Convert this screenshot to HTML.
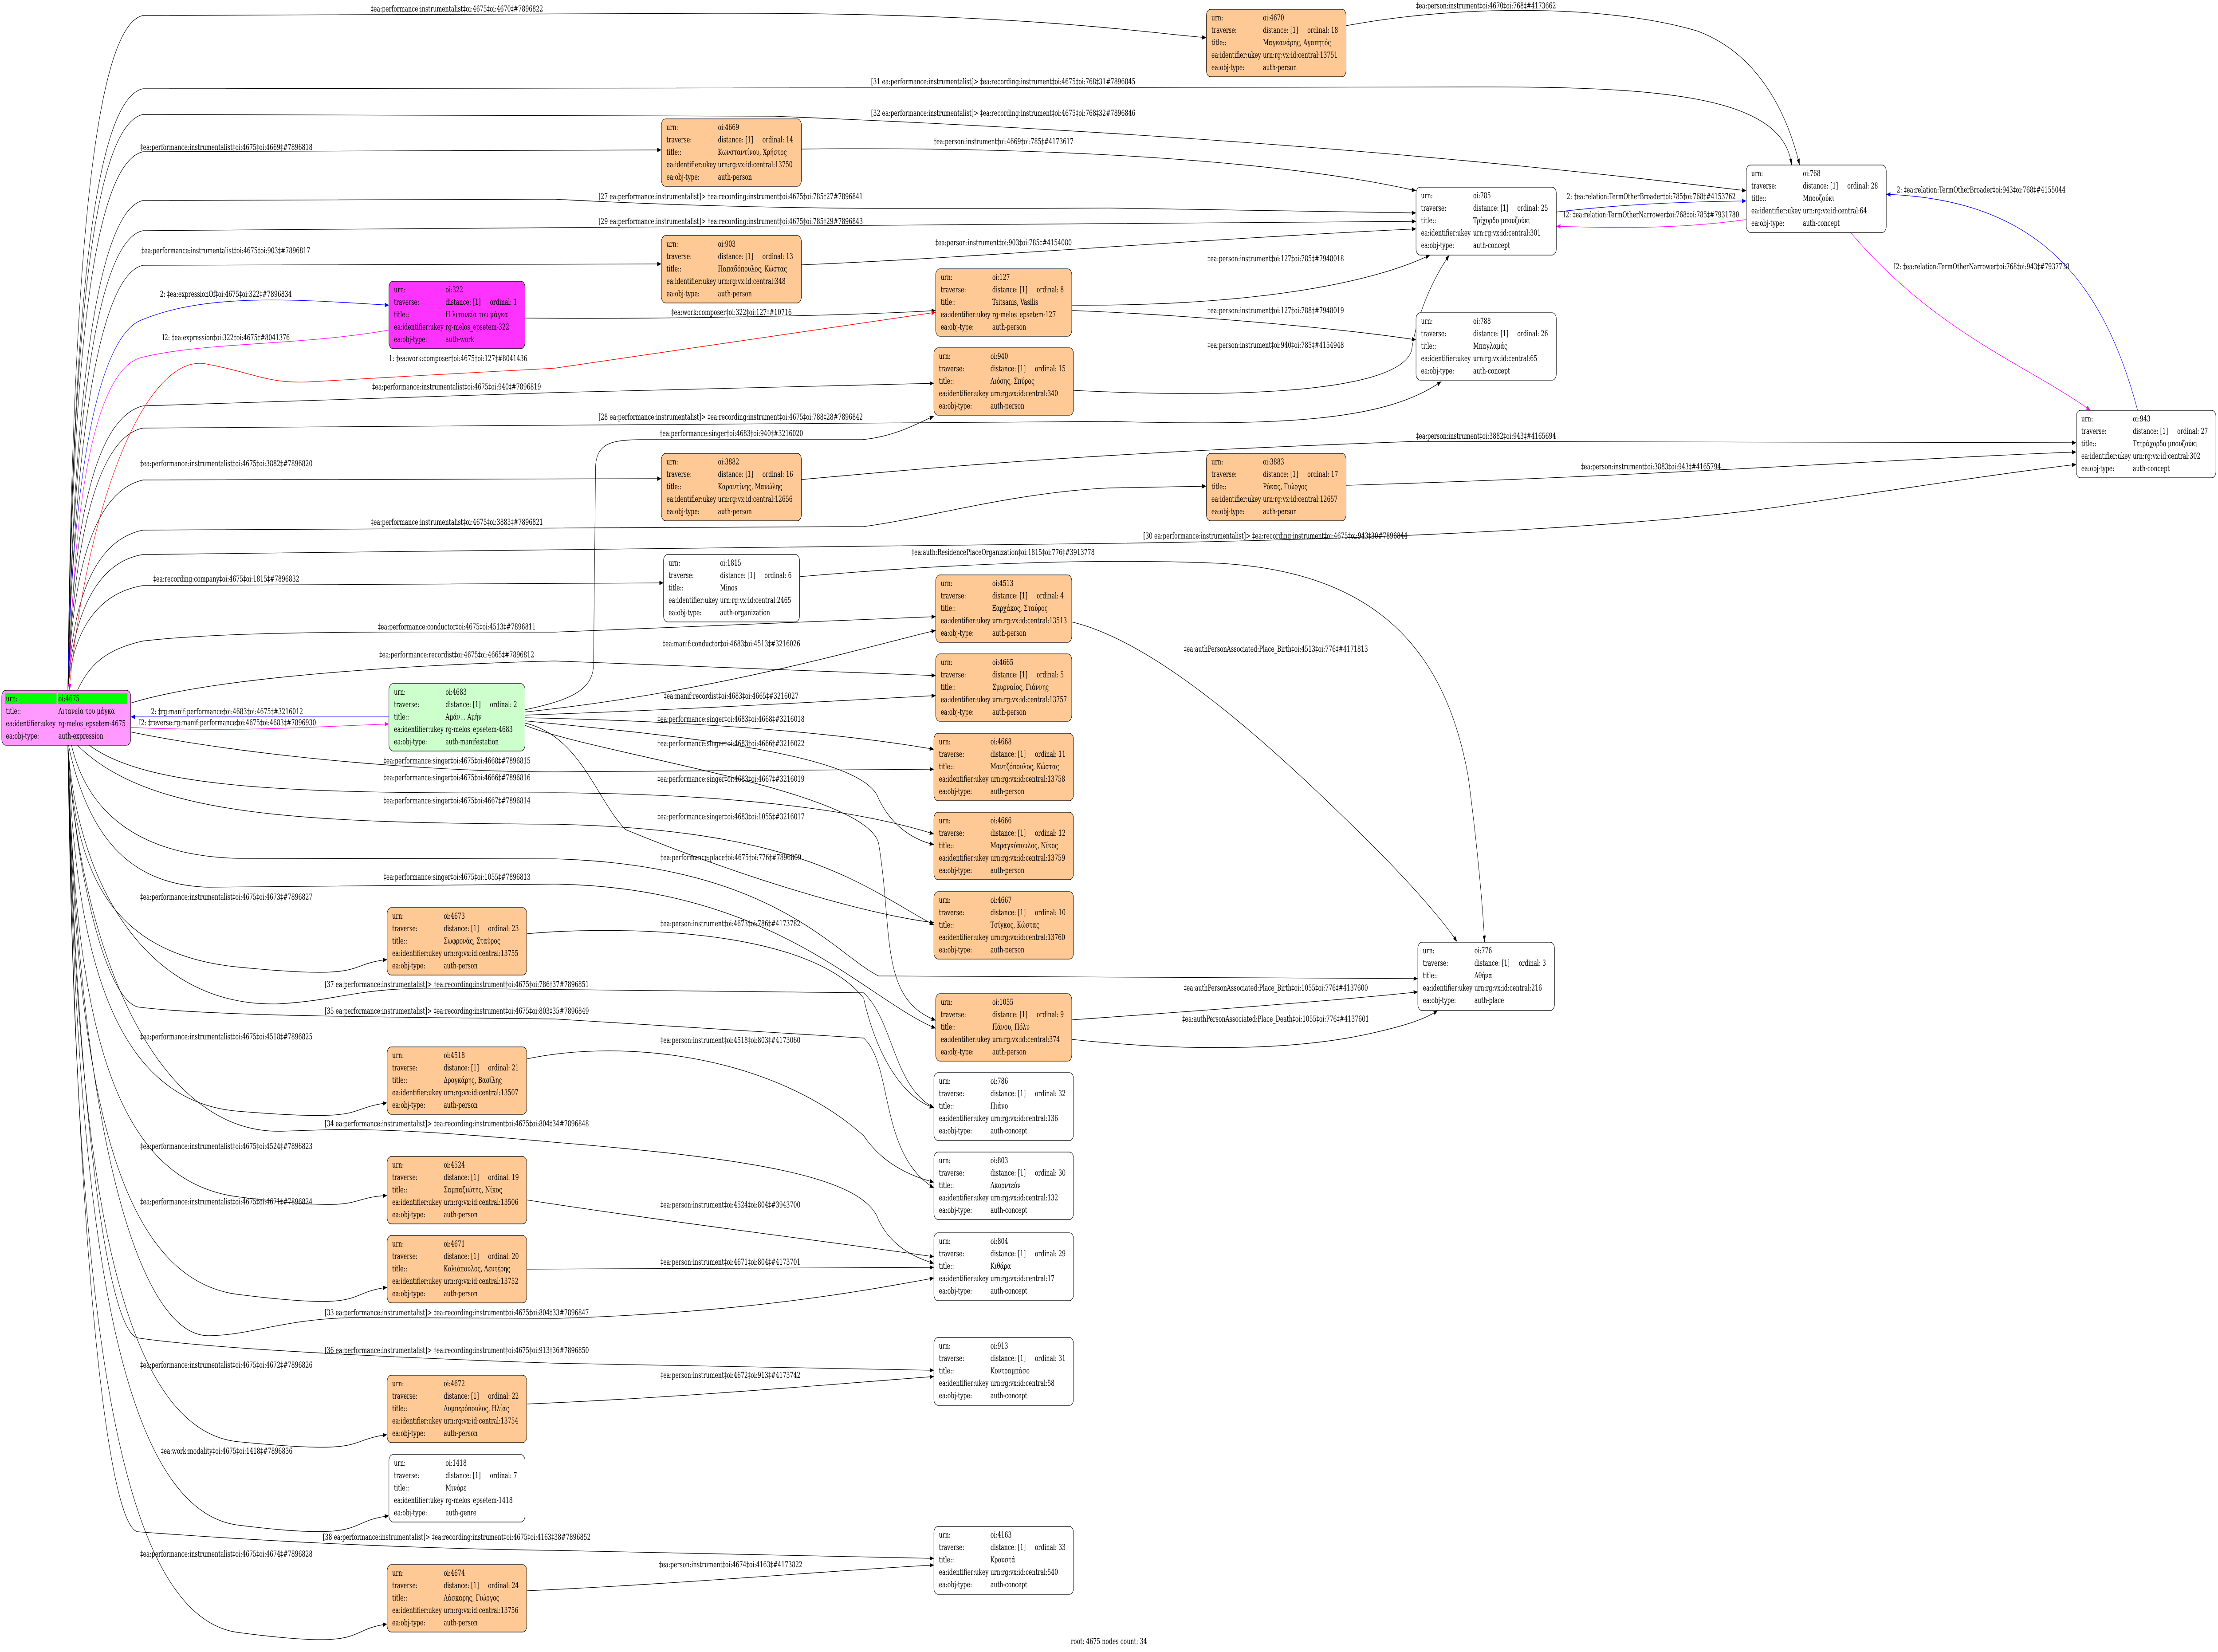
<!DOCTYPE html>
<html><head><meta charset="utf-8"><style>
html,body{margin:0;padding:0;background:#fff;width:100%;height:100%;overflow:hidden}
svg{display:block;width:100vw;height:100vh}
text{font-family:"DejaVu Serif","Liberation Serif","Noto Serif CJK SC",serif;font-size:18.67px;fill:#000}
.e{fill:none;stroke:#000;stroke-width:1.3}
.b{fill:none;stroke:#00f;stroke-width:1.3}
.m{fill:none;stroke:#f0f;stroke-width:1.3}
.r{fill:none;stroke:#f00;stroke-width:1.3}
.o{fill:#ffc995;stroke:#000;stroke-width:1.3}
.w{fill:#fff;stroke:#000;stroke-width:1.3}
.mg{fill:#ff33ff;stroke:#000;stroke-width:1.3}
.gr{fill:#ccffcc;stroke:#000;stroke-width:1.3}
.rt{fill:#ff99ff;stroke:#000;stroke-width:1.3}
</style></head><body>
<svg xmlns="http://www.w3.org/2000/svg" viewBox="0 0 7448 3724" preserveAspectRatio="none">
<defs>
<marker id="ak" markerUnits="userSpaceOnUse" markerWidth="14" markerHeight="10" refX="14" refY="5" orient="auto"><path d="M0,0 L14,5 L0,10z" fill="#000"/></marker>
<marker id="ab" markerUnits="userSpaceOnUse" markerWidth="14" markerHeight="10" refX="14" refY="5" orient="auto"><path d="M0,0 L14,5 L0,10z" fill="#00f"/></marker>
<marker id="am" markerUnits="userSpaceOnUse" markerWidth="14" markerHeight="10" refX="14" refY="5" orient="auto"><path d="M0,0 L14,5 L0,10z" fill="#f0f"/></marker>
<marker id="ar" markerUnits="userSpaceOnUse" markerWidth="14" markerHeight="10" refX="14" refY="5" orient="auto"><path d="M0,0 L14,5 L0,10z" fill="#f00"/></marker>
</defs>
<rect width="7448" height="3724" fill="#fff"/>

<g marker-end="url(#ak)">
<path class="e" d="M228,1556 C240,717 300,60 480,35 L2400,30 C3400,28 3800,70 4051,85"/>
<path class="e" d="M228,1556 C240,808 300,226 480,200 L5000,196 C5600,196 5990,220 6016,372"/>
<path class="e" d="M228,1556 C240,830 300,285 480,258 L2600,262 C4000,300 5000,360 5864,430"/>
<path class="e" d="M228,1556 C240,886 300,370 480,342 L2221,338"/>
<path class="e" d="M228,1556 C240,1050 300,480 480,452 L1862,449 C2600,476 3200,470 3724,469 L4755,480"/>
<path class="e" d="M228,1556 C240,1090 300,545 480,520 L4755,499"/>
<path class="e" d="M228,1556 C240,1170 300,625 480,598 L2221,595"/>
<path class="e" d="M228,1556 C240,1240 300,945 480,915 L1862,885 L3136,864"/>
<path class="e" d="M228,1556 C240,1300 300,990 480,965 L3724,950 C4300,960 4650,950 4840,860"/>
<path class="e" d="M228,1556 C240,1320 300,1110 480,1082 L2221,1079"/>
<path class="e" d="M228,1556 C240,1380 300,1220 480,1195 L2900,1187 C3100,1170 3400,1110 3724,1100 L4051,1096"/>
<path class="e" d="M228,1556 C240,1420 300,1270 480,1250 L3724,1225 C4800,1215 5600,1180 6000,1140 C6500,1090 6800,1060 6972,1047"/>
<path class="e" d="M228,1556 C240,1450 300,1340 480,1320 L2228,1314"/>
<path class="e" d="M260,1556 C300,1500 350,1465 480,1445 C800,1420 1400,1425 1862,1425 L3142,1390"/>
<path class="e" d="M439,1585 C700,1530 1300,1500 1862,1490 L3142,1523"/>
<path class="e" d="M439,1650 C800,1700 1400,1740 1862,1740 L3136,1734"/>
<path class="e" d="M300,1680 C500,1780 1000,1790 1862,1787 C2500,1790 2900,1830 3136,1880"/>
<path class="e" d="M260,1680 C500,1840 1000,1855 1862,1858 C2700,1870 2900,2000 3136,2085"/>
<path class="e" d="M230,1680 C300,1900 450,1995 700,2000 L1862,1993 C2600,2000 2900,2250 3142,2318"/>
<path class="e" d="M240,1680 C300,1850 500,1930 800,1935 L1862,1936 C2600,1950 2800,2150 2950,2200 L4761,2206"/>
<path class="e" d="M228,1680 C250,1950 350,2150 800,2180 S1150,2175 1300,2163"/>
<path class="e" d="M228,1680 C260,2000 500,2270 932,2263 C1150,2255 1200,2224 1500,2228 L2900,2238 C3000,2300 3000,2450 3136,2497"/>
<path class="e" d="M228,1680 C250,1950 350,2250 463,2270 C700,2290 1200,2292 1862,2297 L2900,2340 C3000,2400 2950,2600 3136,2678"/>
<path class="e" d="M228,1680 C250,2100 350,2480 800,2505 S1150,2500 1300,2486"/>
<path class="e" d="M228,1680 C260,2100 500,2560 950,2550 C1150,2545 1300,2540 1862,2575 C2500,2610 2900,2650 2950,2750 C3000,2820 3100,2840 3136,2848"/>
<path class="e" d="M228,1680 C250,2250 350,2660 800,2698 S1150,2700 1300,2695"/>
<path class="e" d="M228,1680 C250,2350 350,2880 800,2918 S1150,2915 1300,2902"/>
<path class="e" d="M228,1680 C260,2500 450,3010 700,3011 C850,3010 950,2972 1200,2970 L1862,2972 C2500,2960 2900,2910 3136,2881"/>
<path class="e" d="M228,1680 C250,2400 350,3000 463,3016 C700,3040 1300,3060 1862,3073 L3136,3089"/>
<path class="e" d="M228,1680 C250,2500 350,3220 800,3250 S1150,3248 1300,3234"/>
<path class="e" d="M228,1680 C250,2600 350,3400 800,3438 S1150,3430 1306,3417"/>
<path class="e" d="M228,1680 C250,2700 350,3440 463,3453 C800,3470 1300,3490 1862,3495 L3136,3513"/>
<path class="e" d="M228,1680 C250,2800 350,3640 800,3680 S1150,3675 1300,3661"/>
<path class="e" d="M1763,1600 C1900,1580 1990,1560 1993,1500 L2000,1050 C2005,1000 2050,992 2150,991 L2895,991 C3000,985 3080,955 3136,938"/>
<path class="e" d="M1763,1605 C2400,1560 2900,1460 3142,1421"/>
<path class="e" d="M1763,1612 C2300,1600 2800,1580 3142,1568"/>
<path class="e" d="M1763,1618 C2300,1625 2800,1650 3136,1689"/>
<path class="e" d="M1763,1625 C2300,1660 2900,1700 2950,1800 C3000,1870 3080,1895 3136,1904"/>
<path class="e" d="M1763,1630 C1950,1660 2000,1800 2100,1870 C2500,1980 2900,2060 3136,2080"/>
<path class="e" d="M1763,1635 C2000,1700 2900,1780 2950,1900 C3000,2100 2950,2250 3142,2300"/>
<path class="e" d="M4520,58 C4900,10 5400,10 5700,70 C5900,120 6000,250 6043,372"/>
<path class="e" d="M2691,336 C3500,330 4300,360 4755,430"/>
<path class="e" d="M2691,597 C3300,580 4000,540 4755,516"/>
<path class="e" d="M1763,717 C2300,720 2900,710 3142,700"/>
<path class="e" d="M3599,688 C4200,690 4600,640 4802,575"/>
<path class="e" d="M3599,700 C4000,710 4500,740 4755,766"/>
<path class="e" d="M3605,880 C4200,900 4700,880 4740,790 C4760,700 4820,620 4867,575"/>
<path class="e" d="M2691,1081 C3200,1050 3700,1020 4755,995 L6972,998"/>
<path class="e" d="M4520,1094 C5500,1075 6500,1030 6972,1019"/>
<path class="e" d="M3599,1402 C3900,1450 4300,1700 4600,1900 C4750,2000 4850,2080 4893,2123"/>
<path class="e" d="M2685,1300 C3200,1270 3700,1258 4100,1270 C4600,1290 4850,1450 4930,1750 C4960,1900 4980,2050 4985,2123"/>
<path class="e" d="M1769,2105 C2000,2090 2700,2080 2900,2250 C2950,2400 3050,2480 3136,2497"/>
<path class="e" d="M1769,2387 C2100,2340 2600,2380 2900,2560 C2960,2620 3050,2650 3136,2665"/>
<path class="e" d="M1769,2705 C2300,2760 2800,2800 3136,2833"/>
<path class="e" d="M1769,2861 L3136,2857"/>
<path class="e" d="M1769,3165 C2300,3150 2800,3120 3136,3103"/>
<path class="e" d="M1769,3586 C2300,3570 2800,3540 3136,3528"/>
<path class="e" d="M3599,2299 C4000,2280 4500,2255 4761,2236"/>
<path class="e" d="M3599,2343 C3900,2365 4300,2375 4600,2330 C4700,2315 4780,2300 4828,2278"/>
</g>
<path class="b" marker-end="url(#ab)" d="M228,1556 C235,1200 300,760 480,720 C700,660 1000,675 1306,688"/>
<path class="m" marker-end="url(#am)" d="M1306,744 C1000,780 700,770 480,805 C300,830 240,1200 234,1556"/>
<path class="r" marker-end="url(#ar)" d="M232,1556 C300,1100 500,800 689,820 C850,840 900,865 1033,861 C1300,850 1600,840 1862,830 L3142,704"/>
<path class="b" marker-end="url(#ab)" d="M1306,1616 L439,1616"/>
<path class="m" marker-end="url(#am)" d="M439,1640 C800,1650 1000,1640 1306,1632"/>
<path class="b" marker-end="url(#ab)" d="M5226,478 C5450,460 5650,455 5864,453"/>
<path class="m" marker-end="url(#am)" d="M5864,495 C5650,515 5450,515 5226,510"/>
<path class="b" marker-end="url(#ab)" d="M7178,925 C7050,600 6800,450 6334,438"/>
<path class="m" marker-end="url(#am)" d="M6214,524 C6500,750 6800,820 7020,925"/>

<g>
<text x="1245" y="26">‡ea:performance:instrumentalist‡oi:4675‡oi:4670‡#7896822</text>
<text x="2925" y="190">[31 ea:performance:instrumentalist]&gt; ‡ea:recording:instrument‡oi:4675‡oi:768‡31#7896845</text>
<text x="2925" y="261">[32 ea:performance:instrumentalist]&gt; ‡ea:recording:instrument‡oi:4675‡oi:768‡32#7896846</text>
<text x="471" y="338">‡ea:performance:instrumentalist‡oi:4675‡oi:4669‡#7896818</text>
<text x="3135" y="325">‡ea:person:instrument‡oi:4669‡oi:785‡#4173617</text>
<text x="2010" y="449">[27 ea:performance:instrumentalist]&gt; ‡ea:recording:instrument‡oi:4675‡oi:785‡27#7896841</text>
<text x="2010" y="505">[29 ea:performance:instrumentalist]&gt; ‡ea:recording:instrument‡oi:4675‡oi:785‡29#7896843</text>
<text x="475" y="571">‡ea:performance:instrumentalist‡oi:4675‡oi:903‡#7896817</text>
<text x="3141" y="553">‡ea:person:instrument‡oi:903‡oi:785‡#4154080</text>
<text x="537" y="669">2: ‡ea:expressionOf‡oi:4675‡oi:322‡#7896834</text>
<text x="545" y="767">I2: ‡ea:expression‡oi:322‡oi:4675‡#8041376</text>
<text x="1306" y="814">1: ‡ea:work:composer‡oi:4675‡oi:127‡#8041436</text>
<text x="2254" y="710">‡ea:work:composer‡oi:322‡oi:127‡#10716</text>
<text x="1250" y="878">‡ea:performance:instrumentalist‡oi:4675‡oi:940‡#7896819</text>
<text x="2010" y="946">[28 ea:performance:instrumentalist]&gt; ‡ea:recording:instrument‡oi:4675‡oi:788‡28#7896842</text>
<text x="2215" y="983">‡ea:performance:singer‡oi:4683‡oi:940‡#3216020</text>
<text x="471" y="1051">‡ea:performance:instrumentalist‡oi:4675‡oi:3882‡#7896820</text>
<text x="1245" y="1183">‡ea:performance:instrumentalist‡oi:4675‡oi:3883‡#7896821</text>
<text x="3839" y="1214">[30 ea:performance:instrumentalist]&gt; ‡ea:recording:instrument‡oi:4675‡oi:943‡30#7896844</text>
<text x="515" y="1311">‡ea:recording:company‡oi:4675‡oi:1815‡#7896832</text>
<text x="3061" y="1251">‡ea:auth:ResidencePlaceOrganization‡oi:1815‡oi:776‡#3913778</text>
<text x="1269" y="1419">‡ea:performance:conductor‡oi:4675‡oi:4513‡#7896811</text>
<text x="1274" y="1482">‡ea:performance:recordist‡oi:4675‡oi:4665‡#7896812</text>
<text x="2225" y="1457">‡ea:manif:conductor‡oi:4683‡oi:4513‡#3216026</text>
<text x="2229" y="1575">‡ea:manif:recordist‡oi:4683‡oi:4665‡#3216027</text>
<text x="507" y="1610">2: ‡rg:manif:performance‡oi:4683‡oi:4675‡#3216012</text>
<text x="466" y="1635">I2: ‡reverse:rg:manif:performance‡oi:4675‡oi:4683‡#7896930</text>
<text x="2208" y="1627">‡ea:performance:singer‡oi:4683‡oi:4668‡#3216018</text>
<text x="2208" y="1682">‡ea:performance:singer‡oi:4683‡oi:4666‡#3216022</text>
<text x="2208" y="1762">‡ea:performance:singer‡oi:4683‡oi:4667‡#3216019</text>
<text x="2208" y="1847">‡ea:performance:singer‡oi:4683‡oi:1055‡#3216017</text>
<text x="1288" y="1721">‡ea:performance:singer‡oi:4675‡oi:4668‡#7896815</text>
<text x="1288" y="1759">‡ea:performance:singer‡oi:4675‡oi:4666‡#7896816</text>
<text x="1288" y="1811">‡ea:performance:singer‡oi:4675‡oi:4667‡#7896814</text>
<text x="1288" y="1983">‡ea:performance:singer‡oi:4675‡oi:1055‡#7896813</text>
<text x="2218" y="1939">‡ea:performance:place‡oi:4675‡oi:776‡#7896809</text>
<text x="471" y="2028">‡ea:performance:instrumentalist‡oi:4675‡oi:4673‡#7896827</text>
<text x="2218" y="2088">‡ea:person:instrument‡oi:4673‡oi:786‡#4173782</text>
<text x="1090" y="2225">[37 ea:performance:instrumentalist]&gt; ‡ea:recording:instrument‡oi:4675‡oi:786‡37#7896851</text>
<text x="3975" y="2233">‡ea:authPersonAssociated:Place_Birth‡oi:1055‡oi:776‡#4137600</text>
<text x="1090" y="2285">[35 ea:performance:instrumentalist]&gt; ‡ea:recording:instrument‡oi:4675‡oi:803‡35#7896849</text>
<text x="3970" y="2303">‡ea:authPersonAssociated:Place_Death‡oi:1055‡oi:776‡#4137601</text>
<text x="471" y="2343">‡ea:performance:instrumentalist‡oi:4675‡oi:4518‡#7896825</text>
<text x="2218" y="2351">‡ea:person:instrument‡oi:4518‡oi:803‡#4173060</text>
<text x="1090" y="2539">[34 ea:performance:instrumentalist]&gt; ‡ea:recording:instrument‡oi:4675‡oi:804‡34#7896848</text>
<text x="471" y="2590">‡ea:performance:instrumentalist‡oi:4675‡oi:4524‡#7896823</text>
<text x="2218" y="2722">‡ea:person:instrument‡oi:4524‡oi:804‡#3943700</text>
<text x="471" y="2715">‡ea:performance:instrumentalist‡oi:4675‡oi:4671‡#7896824</text>
<text x="2218" y="2851">‡ea:person:instrument‡oi:4671‡oi:804‡#4173701</text>
<text x="1090" y="2965">[33 ea:performance:instrumentalist]&gt; ‡ea:recording:instrument‡oi:4675‡oi:804‡33#7896847</text>
<text x="1090" y="3050">[36 ea:performance:instrumentalist]&gt; ‡ea:recording:instrument‡oi:4675‡oi:913‡36#7896850</text>
<text x="471" y="3083">‡ea:performance:instrumentalist‡oi:4675‡oi:4672‡#7896826</text>
<text x="2218" y="3106">‡ea:person:instrument‡oi:4672‡oi:913‡#4173742</text>
<text x="540" y="3277">‡ea:work:modality‡oi:4675‡oi:1418‡#7896836</text>
<text x="1084" y="3471">[38 ea:performance:instrumentalist]&gt; ‡ea:recording:instrument‡oi:4675‡oi:4163‡38#7896852</text>
<text x="471" y="3509">‡ea:performance:instrumentalist‡oi:4675‡oi:4674‡#7896828</text>
<text x="2213" y="3533">‡ea:person:instrument‡oi:4674‡oi:4163‡#4173822</text>
<text x="4755" y="19">‡ea:person:instrument‡oi:4670‡oi:768‡#4173662</text>
<text x="4055" y="589">‡ea:person:instrument‡oi:127‡oi:785‡#7948018</text>
<text x="4055" y="706">‡ea:person:instrument‡oi:127‡oi:788‡#7948019</text>
<text x="4055" y="784">‡ea:person:instrument‡oi:940‡oi:785‡#4154948</text>
<text x="4755" y="989">‡ea:person:instrument‡oi:3882‡oi:943‡#4165694</text>
<text x="5309" y="1058">‡ea:person:instrument‡oi:3883‡oi:943‡#4165794</text>
<text x="3975" y="1469">‡ea:authPersonAssociated:Place_Birth‡oi:4513‡oi:776‡#4171813</text>
<text x="5261" y="449">2: ‡ea:relation:TermOtherBroader‡oi:785‡oi:768‡#4153762</text>
<text x="5250" y="490">I2: ‡ea:relation:TermOtherNarrower‡oi:768‡oi:785‡#7931780</text>
<text x="6369" y="434">2: ‡ea:relation:TermOtherBroader‡oi:943‡oi:768‡#4155044</text>
<text x="6359" y="607">I2: ‡ea:relation:TermOtherNarrower‡oi:768‡oi:943‡#7937738</text>
<text x="3596" y="3706">root: 4675 nodes count: 34</text>
</g>

<g transform="translate(6,1556)">
<rect class="rt" width="433" height="124" rx="14"/>
<rect x="12" y="7" width="172" height="24" fill="#00ff00"/>
<rect x="188" y="7" width="234" height="24" fill="#00ff00"/>
<text x="14" y="25">urn:</text><text x="190" y="25">oi:4675</text>
<text x="14" y="53">title::</text><text x="190" y="53">Λιτανεία του μάγκα</text>
<text x="14" y="81">ea:identifier:ukey</text><text x="190" y="81">rg-melos_epsetem-4675</text>
<text x="14" y="109">ea:obj-type:</text><text x="190" y="109">auth-expression</text>
</g>

<g transform="translate(1306,634)">
<rect class="mg" width="457" height="152" rx="14"/>
<text x="17" y="25">urn:</text><text x="190" y="25">oi:322</text>
<text x="17" y="53">traverse:</text><text x="190" y="53">distance: [1]</text><text x="339" y="53">ordinal: 1</text>
<text x="17" y="81">title::</text><text x="190" y="81">Η λιτανεία του μάγκα</text>
<text x="17" y="109">ea:identifier:ukey</text><text x="190" y="109">rg-melos_epsetem-322</text>
<text x="17" y="137">ea:obj-type:</text><text x="190" y="137">auth-work</text>
</g>

<g transform="translate(1306,1541)">
<rect class="gr" width="457" height="152" rx="14"/>
<text x="17" y="25">urn:</text><text x="190" y="25">oi:4683</text>
<text x="17" y="53">traverse:</text><text x="190" y="53">distance: [1]</text><text x="339" y="53">ordinal: 2</text>
<text x="17" y="81">title::</text><text x="190" y="81">Αμάν... Αμήν</text>
<text x="17" y="109">ea:identifier:ukey</text><text x="190" y="109">rg-melos_epsetem-4683</text>
<text x="17" y="137">ea:obj-type:</text><text x="190" y="137">auth-manifestation</text>
</g>

<g transform="translate(4051,21)"><rect class="o" width="469" height="152" rx="14"/>
<text x="17" y="25">urn:</text><text x="190" y="25">oi:4670</text>
<text x="17" y="53">traverse:</text><text x="190" y="53">distance: [1]</text><text x="339" y="53">ordinal: 18</text>
<text x="17" y="81">title::</text><text x="190" y="81">Μαγκανάρης, Αγαπητός</text>
<text x="17" y="109">ea:identifier:ukey</text><text x="190" y="109">urn:rg:vx:id:central:13751</text>
<text x="17" y="137">ea:obj-type:</text><text x="190" y="137">auth-person</text></g>

<g transform="translate(2221,268)"><rect class="o" width="470" height="152" rx="14"/>
<text x="17" y="25">urn:</text><text x="190" y="25">oi:4669</text>
<text x="17" y="53">traverse:</text><text x="190" y="53">distance: [1]</text><text x="339" y="53">ordinal: 14</text>
<text x="17" y="81">title::</text><text x="190" y="81">Κωνσταντίνου, Χρήστος</text>
<text x="17" y="109">ea:identifier:ukey</text><text x="190" y="109">urn:rg:vx:id:central:13750</text>
<text x="17" y="137">ea:obj-type:</text><text x="190" y="137">auth-person</text></g>

<g transform="translate(2221,531)"><rect class="o" width="470" height="152" rx="14"/>
<text x="17" y="25">urn:</text><text x="190" y="25">oi:903</text>
<text x="17" y="53">traverse:</text><text x="190" y="53">distance: [1]</text><text x="339" y="53">ordinal: 13</text>
<text x="17" y="81">title::</text><text x="190" y="81">Παπαδόπουλος, Κώστας</text>
<text x="17" y="109">ea:identifier:ukey</text><text x="190" y="109">urn:rg:vx:id:central:348</text>
<text x="17" y="137">ea:obj-type:</text><text x="190" y="137">auth-person</text></g>

<g transform="translate(3142,606)"><rect class="o" width="457" height="152" rx="14"/>
<text x="17" y="25">urn:</text><text x="190" y="25">oi:127</text>
<text x="17" y="53">traverse:</text><text x="190" y="53">distance: [1]</text><text x="339" y="53">ordinal: 8</text>
<text x="17" y="81">title::</text><text x="190" y="81">Tsitsanis, Vasilis</text>
<text x="17" y="109">ea:identifier:ukey</text><text x="190" y="109">rg-melos_epsetem-127</text>
<text x="17" y="137">ea:obj-type:</text><text x="190" y="137">auth-person</text></g>

<g transform="translate(3136,784)"><rect class="o" width="469" height="152" rx="14"/>
<text x="17" y="25">urn:</text><text x="190" y="25">oi:940</text>
<text x="17" y="53">traverse:</text><text x="190" y="53">distance: [1]</text><text x="339" y="53">ordinal: 15</text>
<text x="17" y="81">title::</text><text x="190" y="81">Λιόσης, Σπύρος</text>
<text x="17" y="109">ea:identifier:ukey</text><text x="190" y="109">urn:rg:vx:id:central:340</text>
<text x="17" y="137">ea:obj-type:</text><text x="190" y="137">auth-person</text></g>

<g transform="translate(2221,1022)"><rect class="o" width="470" height="152" rx="14"/>
<text x="17" y="25">urn:</text><text x="190" y="25">oi:3882</text>
<text x="17" y="53">traverse:</text><text x="190" y="53">distance: [1]</text><text x="339" y="53">ordinal: 16</text>
<text x="17" y="81">title::</text><text x="190" y="81">Καραντίνης, Μανώλης</text>
<text x="17" y="109">ea:identifier:ukey</text><text x="190" y="109">urn:rg:vx:id:central:12656</text>
<text x="17" y="137">ea:obj-type:</text><text x="190" y="137">auth-person</text></g>

<g transform="translate(4051,1022)"><rect class="o" width="469" height="152" rx="14"/>
<text x="17" y="25">urn:</text><text x="190" y="25">oi:3883</text>
<text x="17" y="53">traverse:</text><text x="190" y="53">distance: [1]</text><text x="339" y="53">ordinal: 17</text>
<text x="17" y="81">title::</text><text x="190" y="81">Ρόκας, Γιώργος</text>
<text x="17" y="109">ea:identifier:ukey</text><text x="190" y="109">urn:rg:vx:id:central:12657</text>
<text x="17" y="137">ea:obj-type:</text><text x="190" y="137">auth-person</text></g>

<g transform="translate(3142,1296)"><rect class="o" width="457" height="152" rx="14"/>
<text x="17" y="25">urn:</text><text x="190" y="25">oi:4513</text>
<text x="17" y="53">traverse:</text><text x="190" y="53">distance: [1]</text><text x="339" y="53">ordinal: 4</text>
<text x="17" y="81">title::</text><text x="190" y="81">Ξαρχάκος, Σταύρος</text>
<text x="17" y="109">ea:identifier:ukey</text><text x="190" y="109">urn:rg:vx:id:central:13513</text>
<text x="17" y="137">ea:obj-type:</text><text x="190" y="137">auth-person</text></g>

<g transform="translate(3142,1474)"><rect class="o" width="457" height="152" rx="14"/>
<text x="17" y="25">urn:</text><text x="190" y="25">oi:4665</text>
<text x="17" y="53">traverse:</text><text x="190" y="53">distance: [1]</text><text x="339" y="53">ordinal: 5</text>
<text x="17" y="81">title::</text><text x="190" y="81">Σμυρναίος, Γιάννης</text>
<text x="17" y="109">ea:identifier:ukey</text><text x="190" y="109">urn:rg:vx:id:central:13757</text>
<text x="17" y="137">ea:obj-type:</text><text x="190" y="137">auth-person</text></g>

<g transform="translate(3136,1653)"><rect class="o" width="469" height="152" rx="14"/>
<text x="17" y="25">urn:</text><text x="190" y="25">oi:4668</text>
<text x="17" y="53">traverse:</text><text x="190" y="53">distance: [1]</text><text x="339" y="53">ordinal: 11</text>
<text x="17" y="81">title::</text><text x="190" y="81">Μαντζόπουλος, Κώστας</text>
<text x="17" y="109">ea:identifier:ukey</text><text x="190" y="109">urn:rg:vx:id:central:13758</text>
<text x="17" y="137">ea:obj-type:</text><text x="190" y="137">auth-person</text></g>

<g transform="translate(3136,1831)"><rect class="o" width="469" height="152" rx="14"/>
<text x="17" y="25">urn:</text><text x="190" y="25">oi:4666</text>
<text x="17" y="53">traverse:</text><text x="190" y="53">distance: [1]</text><text x="339" y="53">ordinal: 12</text>
<text x="17" y="81">title::</text><text x="190" y="81">Μαραγκόπουλος, Νίκος</text>
<text x="17" y="109">ea:identifier:ukey</text><text x="190" y="109">urn:rg:vx:id:central:13759</text>
<text x="17" y="137">ea:obj-type:</text><text x="190" y="137">auth-person</text></g>

<g transform="translate(3136,2010)"><rect class="o" width="469" height="152" rx="14"/>
<text x="17" y="25">urn:</text><text x="190" y="25">oi:4667</text>
<text x="17" y="53">traverse:</text><text x="190" y="53">distance: [1]</text><text x="339" y="53">ordinal: 10</text>
<text x="17" y="81">title::</text><text x="190" y="81">Τσίγκος, Κώστας</text>
<text x="17" y="109">ea:identifier:ukey</text><text x="190" y="109">urn:rg:vx:id:central:13760</text>
<text x="17" y="137">ea:obj-type:</text><text x="190" y="137">auth-person</text></g>

<g transform="translate(3142,2240)"><rect class="o" width="457" height="152" rx="14"/>
<text x="17" y="25">urn:</text><text x="190" y="25">oi:1055</text>
<text x="17" y="53">traverse:</text><text x="190" y="53">distance: [1]</text><text x="339" y="53">ordinal: 9</text>
<text x="17" y="81">title::</text><text x="190" y="81">Πάνου, Πόλυ</text>
<text x="17" y="109">ea:identifier:ukey</text><text x="190" y="109">urn:rg:vx:id:central:374</text>
<text x="17" y="137">ea:obj-type:</text><text x="190" y="137">auth-person</text></g>

<g transform="translate(1300,2046)"><rect class="o" width="469" height="152" rx="14"/>
<text x="17" y="25">urn:</text><text x="190" y="25">oi:4673</text>
<text x="17" y="53">traverse:</text><text x="190" y="53">distance: [1]</text><text x="339" y="53">ordinal: 23</text>
<text x="17" y="81">title::</text><text x="190" y="81">Σωφρονάς, Σταύρος</text>
<text x="17" y="109">ea:identifier:ukey</text><text x="190" y="109">urn:rg:vx:id:central:13755</text>
<text x="17" y="137">ea:obj-type:</text><text x="190" y="137">auth-person</text></g>

<g transform="translate(1300,2360)"><rect class="o" width="469" height="152" rx="14"/>
<text x="17" y="25">urn:</text><text x="190" y="25">oi:4518</text>
<text x="17" y="53">traverse:</text><text x="190" y="53">distance: [1]</text><text x="339" y="53">ordinal: 21</text>
<text x="17" y="81">title::</text><text x="190" y="81">Δρογκάρης, Βασίλης</text>
<text x="17" y="109">ea:identifier:ukey</text><text x="190" y="109">urn:rg:vx:id:central:13507</text>
<text x="17" y="137">ea:obj-type:</text><text x="190" y="137">auth-person</text></g>

<g transform="translate(1300,2607)"><rect class="o" width="469" height="152" rx="14"/>
<text x="17" y="25">urn:</text><text x="190" y="25">oi:4524</text>
<text x="17" y="53">traverse:</text><text x="190" y="53">distance: [1]</text><text x="339" y="53">ordinal: 19</text>
<text x="17" y="81">title::</text><text x="190" y="81">Σαμπαζιώτης, Νίκος</text>
<text x="17" y="109">ea:identifier:ukey</text><text x="190" y="109">urn:rg:vx:id:central:13506</text>
<text x="17" y="137">ea:obj-type:</text><text x="190" y="137">auth-person</text></g>

<g transform="translate(1300,2785)"><rect class="o" width="469" height="152" rx="14"/>
<text x="17" y="25">urn:</text><text x="190" y="25">oi:4671</text>
<text x="17" y="53">traverse:</text><text x="190" y="53">distance: [1]</text><text x="339" y="53">ordinal: 20</text>
<text x="17" y="81">title::</text><text x="190" y="81">Κολιόπουλος, Λευτέρης</text>
<text x="17" y="109">ea:identifier:ukey</text><text x="190" y="109">urn:rg:vx:id:central:13752</text>
<text x="17" y="137">ea:obj-type:</text><text x="190" y="137">auth-person</text></g>

<g transform="translate(1300,3100)"><rect class="o" width="469" height="152" rx="14"/>
<text x="17" y="25">urn:</text><text x="190" y="25">oi:4672</text>
<text x="17" y="53">traverse:</text><text x="190" y="53">distance: [1]</text><text x="339" y="53">ordinal: 22</text>
<text x="17" y="81">title::</text><text x="190" y="81">Λυμπερόπουλος, Ηλίας</text>
<text x="17" y="109">ea:identifier:ukey</text><text x="190" y="109">urn:rg:vx:id:central:13754</text>
<text x="17" y="137">ea:obj-type:</text><text x="190" y="137">auth-person</text></g>

<g transform="translate(1300,3527)"><rect class="o" width="469" height="152" rx="14"/>
<text x="17" y="25">urn:</text><text x="190" y="25">oi:4674</text>
<text x="17" y="53">traverse:</text><text x="190" y="53">distance: [1]</text><text x="339" y="53">ordinal: 24</text>
<text x="17" y="81">title::</text><text x="190" y="81">Λάσκαρης, Γιώργος</text>
<text x="17" y="109">ea:identifier:ukey</text><text x="190" y="109">urn:rg:vx:id:central:13756</text>
<text x="17" y="137">ea:obj-type:</text><text x="190" y="137">auth-person</text></g>

<g transform="translate(4755,422)"><rect class="w" width="471" height="153" rx="14"/>
<text x="17" y="25">urn:</text><text x="192" y="25">oi:785</text>
<text x="17" y="53">traverse:</text><text x="192" y="53">distance: [1]</text><text x="340" y="53">ordinal: 25</text>
<text x="17" y="81">title::</text><text x="192" y="81">Τρίχορδο μπουζούκι</text>
<text x="17" y="109">ea:identifier:ukey</text><text x="192" y="109">urn:rg:vx:id:central:301</text>
<text x="17" y="137">ea:obj-type:</text><text x="192" y="137">auth-concept</text></g>

<g transform="translate(4755,705)"><rect class="w" width="471" height="152" rx="14"/>
<text x="17" y="25">urn:</text><text x="192" y="25">oi:788</text>
<text x="17" y="53">traverse:</text><text x="192" y="53">distance: [1]</text><text x="340" y="53">ordinal: 26</text>
<text x="17" y="81">title::</text><text x="192" y="81">Μπαγλαμάς</text>
<text x="17" y="109">ea:identifier:ukey</text><text x="192" y="109">urn:rg:vx:id:central:65</text>
<text x="17" y="137">ea:obj-type:</text><text x="192" y="137">auth-concept</text></g>

<g transform="translate(5864,372)"><rect class="w" width="470" height="152" rx="14"/>
<text x="17" y="25">urn:</text><text x="190" y="25">oi:768</text>
<text x="17" y="53">traverse:</text><text x="190" y="53">distance: [1]</text><text x="339" y="53">ordinal: 28</text>
<text x="17" y="81">title::</text><text x="190" y="81">Μπουζούκι</text>
<text x="17" y="109">ea:identifier:ukey</text><text x="190" y="109">urn:rg:vx:id:central:64</text>
<text x="17" y="137">ea:obj-type:</text><text x="190" y="137">auth-concept</text></g>

<g transform="translate(6972,925)"><rect class="w" width="469" height="152" rx="14"/>
<text x="17" y="25">urn:</text><text x="190" y="25">oi:943</text>
<text x="17" y="53">traverse:</text><text x="190" y="53">distance: [1]</text><text x="339" y="53">ordinal: 27</text>
<text x="17" y="81">title::</text><text x="190" y="81">Τετράχορδο μπουζούκι</text>
<text x="17" y="109">ea:identifier:ukey</text><text x="190" y="109">urn:rg:vx:id:central:302</text>
<text x="17" y="137">ea:obj-type:</text><text x="190" y="137">auth-concept</text></g>

<g transform="translate(4761,2124)"><rect class="w" width="459" height="154" rx="14"/>
<text x="17" y="25">urn:</text><text x="190" y="25">oi:776</text>
<text x="17" y="53">traverse:</text><text x="190" y="53">distance: [1]</text><text x="339" y="53">ordinal: 3</text>
<text x="17" y="81">title::</text><text x="190" y="81">Αθήνα</text>
<text x="17" y="109">ea:identifier:ukey</text><text x="190" y="109">urn:rg:vx:id:central:216</text>
<text x="17" y="137">ea:obj-type:</text><text x="190" y="137">auth-place</text></g>

<g transform="translate(3136,2418)"><rect class="w" width="469" height="153" rx="14"/>
<text x="17" y="25">urn:</text><text x="190" y="25">oi:786</text>
<text x="17" y="53">traverse:</text><text x="190" y="53">distance: [1]</text><text x="339" y="53">ordinal: 32</text>
<text x="17" y="81">title::</text><text x="190" y="81">Πιάνο</text>
<text x="17" y="109">ea:identifier:ukey</text><text x="190" y="109">urn:rg:vx:id:central:136</text>
<text x="17" y="137">ea:obj-type:</text><text x="190" y="137">auth-concept</text></g>

<g transform="translate(3136,2597)"><rect class="w" width="469" height="152" rx="14"/>
<text x="17" y="25">urn:</text><text x="190" y="25">oi:803</text>
<text x="17" y="53">traverse:</text><text x="190" y="53">distance: [1]</text><text x="339" y="53">ordinal: 30</text>
<text x="17" y="81">title::</text><text x="190" y="81">Ακορντεόν</text>
<text x="17" y="109">ea:identifier:ukey</text><text x="190" y="109">urn:rg:vx:id:central:132</text>
<text x="17" y="137">ea:obj-type:</text><text x="190" y="137">auth-concept</text></g>

<g transform="translate(3136,2779)"><rect class="w" width="469" height="153" rx="14"/>
<text x="17" y="25">urn:</text><text x="190" y="25">oi:804</text>
<text x="17" y="53">traverse:</text><text x="190" y="53">distance: [1]</text><text x="339" y="53">ordinal: 29</text>
<text x="17" y="81">title::</text><text x="190" y="81">Κιθάρα</text>
<text x="17" y="109">ea:identifier:ukey</text><text x="190" y="109">urn:rg:vx:id:central:17</text>
<text x="17" y="137">ea:obj-type:</text><text x="190" y="137">auth-concept</text></g>

<g transform="translate(3136,3015)"><rect class="w" width="469" height="153" rx="14"/>
<text x="17" y="25">urn:</text><text x="190" y="25">oi:913</text>
<text x="17" y="53">traverse:</text><text x="190" y="53">distance: [1]</text><text x="339" y="53">ordinal: 31</text>
<text x="17" y="81">title::</text><text x="190" y="81">Κοντραμπάσο</text>
<text x="17" y="109">ea:identifier:ukey</text><text x="190" y="109">urn:rg:vx:id:central:58</text>
<text x="17" y="137">ea:obj-type:</text><text x="190" y="137">auth-concept</text></g>

<g transform="translate(3136,3441)"><rect class="w" width="469" height="153" rx="14"/>
<text x="17" y="25">urn:</text><text x="190" y="25">oi:4163</text>
<text x="17" y="53">traverse:</text><text x="190" y="53">distance: [1]</text><text x="339" y="53">ordinal: 33</text>
<text x="17" y="81">title::</text><text x="190" y="81">Κρουστά</text>
<text x="17" y="109">ea:identifier:ukey</text><text x="190" y="109">urn:rg:vx:id:central:540</text>
<text x="17" y="137">ea:obj-type:</text><text x="190" y="137">auth-concept</text></g>

<g transform="translate(2228,1250)"><rect class="w" width="457" height="152" rx="14"/>
<text x="17" y="25">urn:</text><text x="190" y="25">oi:1815</text>
<text x="17" y="53">traverse:</text><text x="190" y="53">distance: [1]</text><text x="339" y="53">ordinal: 6</text>
<text x="17" y="81">title::</text><text x="190" y="81">Minos</text>
<text x="17" y="109">ea:identifier:ukey</text><text x="190" y="109">urn:rg:vx:id:central:2465</text>
<text x="17" y="137">ea:obj-type:</text><text x="190" y="137">auth-organization</text></g>

<g transform="translate(1306,3279)"><rect class="w" width="457" height="152" rx="14"/>
<text x="17" y="25">urn:</text><text x="190" y="25">oi:1418</text>
<text x="17" y="53">traverse:</text><text x="190" y="53">distance: [1]</text><text x="339" y="53">ordinal: 7</text>
<text x="17" y="81">title::</text><text x="190" y="81">Μινόρε</text>
<text x="17" y="109">ea:identifier:ukey</text><text x="190" y="109">rg-melos_epsetem-1418</text>
<text x="17" y="137">ea:obj-type:</text><text x="190" y="137">auth-genre</text></g>

</svg>
</body></html>
